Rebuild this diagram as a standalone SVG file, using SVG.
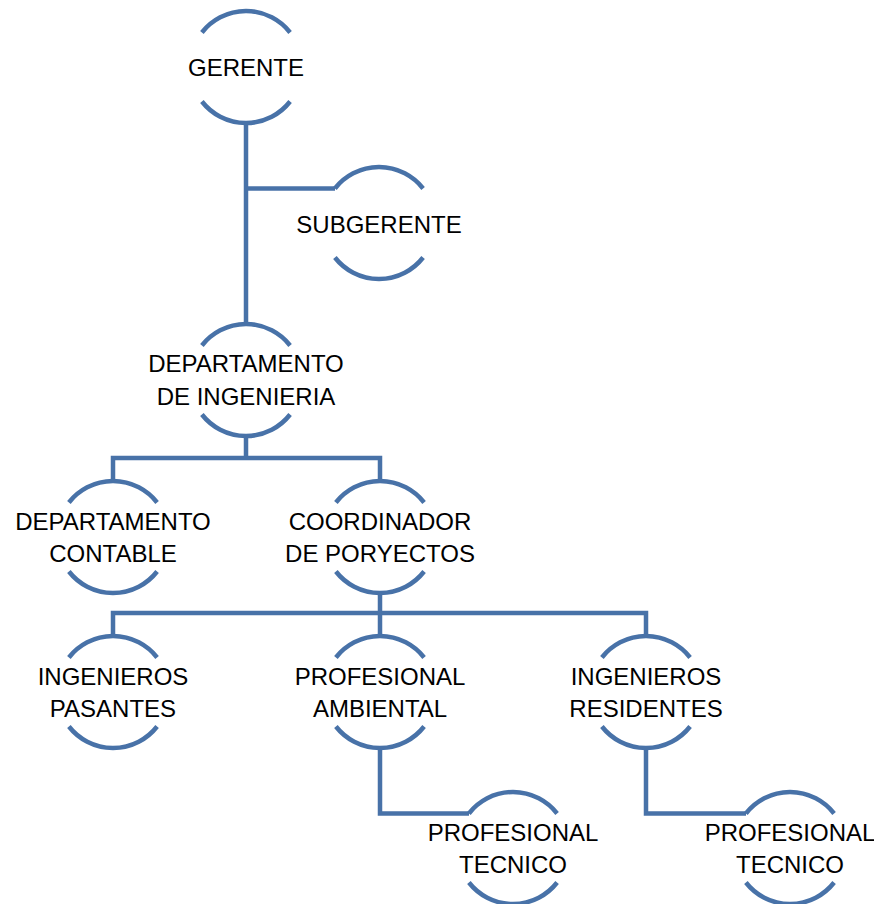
<svg xmlns="http://www.w3.org/2000/svg" width="874" height="904" viewBox="0 0 874 904">
<style>
.arc{fill:none;stroke:#4872A8;stroke-width:4.5}
.con{fill:none;stroke:#4872A8;stroke-width:4.5;stroke-linejoin:miter}
text{font-family:"Liberation Sans",Arial,sans-serif;font-size:24px;fill:#000;text-anchor:middle}
</style>
<defs>
<g id="ring">
<path class="arc" d="M-44.1,-34.5 A56,56 0 0 1 44.1,-34.5"/>
<path class="arc" d="M-44.1,34.5 A56,56 0 0 0 44.1,34.5"/>
</g>
</defs>
<rect width="874" height="904" fill="#fff"/>
<g id="connectors">
<path class="con" d="M246,123 V324"/>
<path class="con" d="M246,188.5 H335"/>
<path class="con" d="M246,436 V458 M113,481 V458 H380 V481"/>
<path class="con" d="M380,593 V613 M113,636 V613 H646 V636 M380,613 V636"/>
<path class="con" d="M380,748 V813.5 H469"/>
<path class="con" d="M646,748 V813.5 H746"/>
</g>
<g id="gerente"><use href="#ring" x="246" y="67"/><text x="246" y="76">GERENTE</text></g>
<g id="subgerente"><use href="#ring" x="379" y="223"/><text x="379" y="233">SUBGERENTE</text></g>
<g id="dep-ingenieria"><use href="#ring" x="246" y="380"/><text x="246" y="372">DEPARTAMENTO</text><text x="246" y="405">DE INGENIERIA</text></g>
<g id="dep-contable"><use href="#ring" x="113" y="537"/><text x="113" y="530">DEPARTAMENTO</text><text x="113" y="562">CONTABLE</text></g>
<g id="coordinador"><use href="#ring" x="380" y="537"/><text x="380" y="530">COORDINADOR</text><text x="380" y="562">DE PORYECTOS</text></g>
<g id="ing-pasantes"><use href="#ring" x="113" y="692"/><text x="113" y="685">INGENIEROS</text><text x="113" y="717">PASANTES</text></g>
<g id="prof-ambiental"><use href="#ring" x="380" y="692"/><text x="380" y="685">PROFESIONAL</text><text x="380" y="717">AMBIENTAL</text></g>
<g id="ing-residentes"><use href="#ring" x="646" y="692"/><text x="646" y="685">INGENIEROS</text><text x="646" y="717">RESIDENTES</text></g>
<g id="prof-tecnico-1"><use href="#ring" x="513" y="848"/><text x="513" y="841">PROFESIONAL</text><text x="513" y="873">TECNICO</text></g>
<g id="prof-tecnico-2"><use href="#ring" x="790" y="848"/><text x="790" y="841">PROFESIONAL</text><text x="790" y="873">TECNICO</text></g>
</svg>
